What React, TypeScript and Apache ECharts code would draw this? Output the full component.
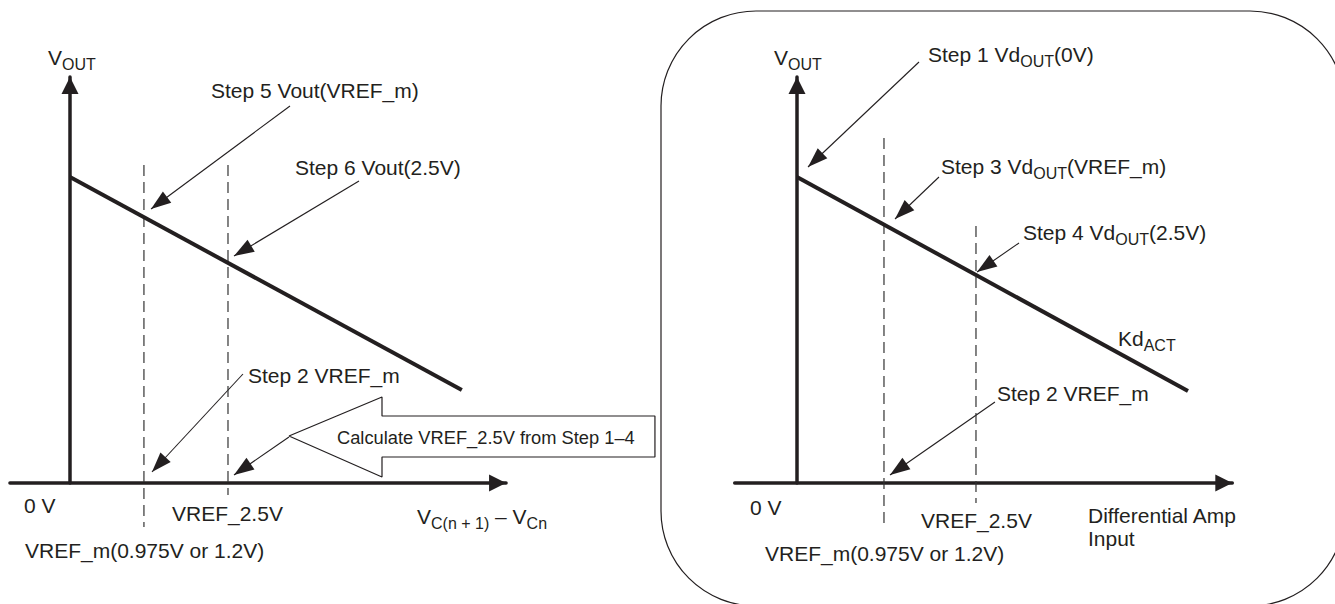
import React, { useEffect, useRef } from "react";
import * as echarts from "echarts";

// ---------------- DATA ----------------
// Axes ranges (x in volts of differential input, y in output units)
const leftXRange = [-0.95, 6.9];
const rightXRange = [-0.87, 6.08];
const calloutXRange = [-0.95, 9.336];
const yRange = [0, 4.06];

// Left panel
const leftTransfer = [[0, 3.06], [6.2, 0.93]];
const leftDashVrefM = [[1.17, 3.18], [1.17, -0.44]];
const leftDashVref25 = [[2.5, 3.18], [2.5, -0.12]];
const leftArrowFrom = [[3.481, 3.77], [4.573, 3.02], [2.737, 1.09], [3.465, 0.46]];
const leftArrowTo = [[1.282, 2.74], [2.595, 2.27], [1.297, 0.11], [2.595, 0.08]];
const calcArrowOutline = [
  [3.465, 0.47], [4.937, 0.86], [4.937, 0.67], [9.256, 0.67],
  [9.256, 0.26], [4.937, 0.26], [4.937, 0.06], [3.465, 0.47],
];

// Right panel
const rightTransfer = [[0, 3.06], [5.461, 0.92]];
const rightDashVrefM = [[1.215, 3.45], [1.215, -0.45]];
const rightDashVref25 = [[2.5, 2.57], [2.5, -0.2]];
const rightArrowFrom = [[1.704, 4.21], [1.983, 3.06], [3.101, 2.4], [2.765, 0.81]];
const rightArrowTo = [[0.154, 3.16], [1.369, 2.64], [2.514, 2.11], [1.299, 0.08]];

// Texts: [style, text] parts (m = main, s = subscript, c = callout)
const leftTexts = [
  [["m", "V"], ["s", "OUT"]],
  [["m", "Step 5 Vout(VREF_m)"]],
  [["m", "Step 6 Vout(2.5V)"]],
  [["m", "Step 2 VREF_m"]],
  [["c", "Calculate VREF_2.5V from Step 1–4"]],
  [["m", "0 V"]],
  [["m", "VREF_2.5V"]],
  [["m", "VREF_m(0.975V or 1.2V)"]],
  [["m", "V"], ["s", "C(n + 1)"], ["m", " – V"], ["s", "Cn"]],
];
const rightTexts = [
  [["m", "V"], ["s", "OUT"]],
  [["m", "Step 1 Vd"], ["s", "OUT"], ["m", "(0V)"]],
  [["m", "Step 3 Vd"], ["s", "OUT"], ["m", "(VREF_m)"]],
  [["m", "Step 4 Vd"], ["s", "OUT"], ["m", "(2.5V)"]],
  [["m", "Kd"], ["s", "ACT"]],
  [["m", "Step 2 VREF_m"]],
  [["m", "0 V"]],
  [["m", "VREF_2.5V"]],
  [["m", "Differential Amp"]],
  [["m", "Input"]],
  [["m", "VREF_m(0.975V or 1.2V)"]],
];

// ---------------- LAYOUT / STYLE ----------------
const INK = "#231f20";
const FONT = "'Liberation Sans', Arial, Helvetica, sans-serif";
const leftTextPos = [
  [48, 57], [211, 90], [295, 167], [248, 375], [337, 437],
  [24, 505], [172, 513], [25, 550], [417, 516],
];
const rightTextPos = [
  [774, 57], [928, 54], [941, 166], [1023, 232], [1118, 338],
  [997, 393], [750, 507], [921, 520], [1088, 515], [1088, 538], [765, 553],
];

// Arrow-head paths whose tip sits at the symbol centre (an extra moveTo widens the box)
const HEAD = "path://M7,0 M7,20 L14,40 L0,40 Z";
const AXIS_HEAD = "path://M8.5,0 M8.5,17 L17,34 L0,34 Z";

const rich = {
  m: { fontSize: 21, fontFamily: FONT, fill: INK },
  s: { fontSize: 16, fontFamily: FONT, fill: INK, padding: [14, 0, 0, 0] },
  c: { fontSize: 18.3, fontFamily: FONT, fill: INK },
};

function textEl(parts: any[], pos: number[]) {
  const str = parts.map((p) => `{${p[0]}|${p[1]}}`).join("");
  return {
    type: "text",
    x: pos[0],
    y: pos[1],
    silent: true,
    z: 10,
    style: {
      text: str,
      rich,
      fill: INK,
      fontFamily: FONT,
      fontSize: 21,
      align: "left",
      verticalAlign: "middle",
    },
  };
}

function axisPair(idx: number, xr: number[], visible: boolean) {
  const line = { show: visible, onZero: true, symbol: ["none", AXIS_HEAD], symbolSize: [17, 34], lineStyle: { color: INK, width: 3.5 } };
  return {
    x: {
      type: "value", gridIndex: idx, min: xr[0], max: xr[1], show: visible,
      axisLine: line, axisTick: { show: false }, axisLabel: { show: false }, splitLine: { show: false },
    },
    y: {
      type: "value", gridIndex: idx, min: yRange[0], max: yRange[1], show: visible,
      axisLine: line, axisTick: { show: false }, axisLabel: { show: false }, splitLine: { show: false },
    },
  };
}

function lineSeries(idx: number, data: number[][], style: any) {
  return {
    type: "line", xAxisIndex: idx, yAxisIndex: idx, data, symbol: "none",
    clip: false, silent: true, lineStyle: { color: INK, ...style },
  };
}

function arrowSeries(idx: number, from: number[][], to: number[][]) {
  return {
    type: "lines", coordinateSystem: "cartesian2d", xAxisIndex: idx, yAxisIndex: idx,
    data: from.map((f, i) => ({ coords: [f, to[i]] })),
    symbol: ["none", HEAD], symbolSize: [[1, 1], [14, 40]],
    clip: false, silent: true,
    lineStyle: { color: INK, width: 1.1, opacity: 1, curveness: 0 },
  };
}

export default function App() {
  const ref = useRef<HTMLDivElement>(null);
  useEffect(() => {
    if (!ref.current) return;
    const chart = echarts.init(ref.current, undefined, { renderer: "svg" });
    const la = axisPair(0, leftXRange, true);
    const ra = axisPair(1, rightXRange, true);
    const ca = axisPair(2, calloutXRange, false);
    const dash = { width: 1.2, type: [11, 6], color: "#333" };
    chart.setOption({
      animation: false,
      backgroundColor: "#ffffff",
      grid: [
        { left: 9.96, top: 77, width: 496.1, height: 406 },
        { left: 734.7, top: 77, width: 497.6, height: 406 },
        { left: 9.96, top: 77, width: 650.04, height: 406 },
      ],
      xAxis: [la.x, ra.x, ca.x],
      yAxis: [la.y, ra.y, ca.y],
      series: [
        lineSeries(0, leftDashVrefM, dash),
        lineSeries(0, leftDashVref25, dash),
        lineSeries(0, leftTransfer, { width: 4 }),
        lineSeries(2, calcArrowOutline, { width: 1.2 }),
        arrowSeries(0, leftArrowFrom, leftArrowTo),
        lineSeries(1, rightDashVrefM, dash),
        lineSeries(1, rightDashVref25, dash),
        lineSeries(1, rightTransfer, { width: 4 }),
        arrowSeries(1, rightArrowFrom, rightArrowTo),
      ],
      graphic: [
        {
          type: "rect", silent: true, z: 0,
          shape: { x: 661, y: 11, width: 684, height: 595, r: 95 },
          style: { fill: "none", stroke: INK, lineWidth: 1.2 },
        },
        ...leftTexts.map((t, i) => textEl(t, leftTextPos[i])),
        ...rightTexts.map((t, i) => textEl(t, rightTextPos[i])),
      ],
    });
    return () => chart.dispose();
  }, []);
  return (
    <div
      ref={ref}
      style={{ position: "absolute", left: 0, top: 0, width: 1335, height: 604, background: "#fff" }}
    />
  );
}
